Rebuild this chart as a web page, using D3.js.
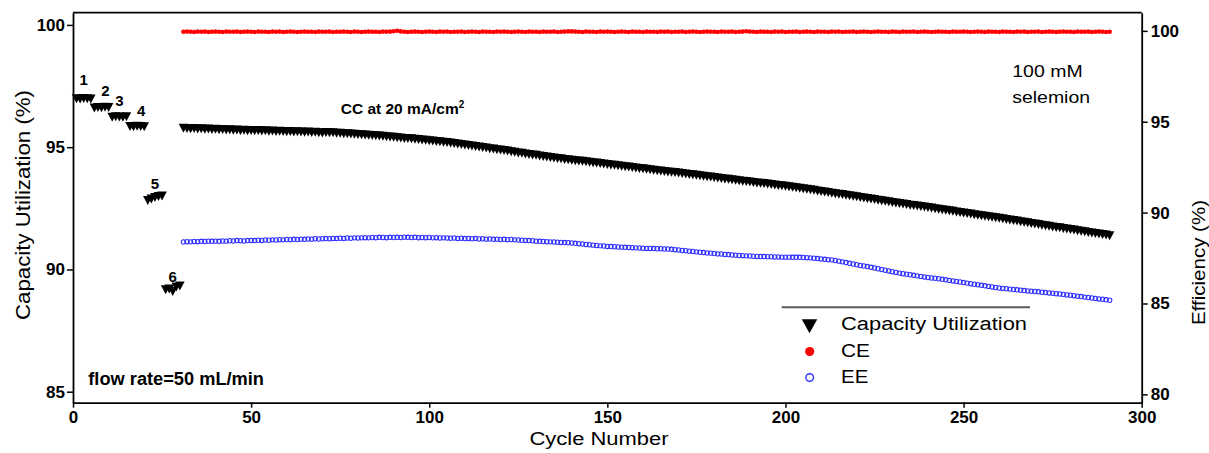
<!DOCTYPE html>
<html>
<head>
<meta charset="utf-8">
<script src="https://cdn.jsdelivr.net/npm/d3@7"></script>
<style>
  html, body { margin: 0; padding: 0; background: #fff; }
  svg { display: block; }
  text { font-family: "Liberation Sans", Arial, Helvetica, sans-serif; fill: #000; }
</style>
</head>
<body>
<svg id="chart" width="1209" height="453"></svg>
<script>
// Capacity utilization (%) for the six flow-rate steps, 5 cycles each (cycles 1–30)
const capacityEarly = [
  96.98, 96.97, 96.99, 96.98, 96.97,
  96.60, 96.62, 96.61, 96.63, 96.62,
  96.22, 96.24, 96.23, 96.22, 96.24,
  95.85, 95.84, 95.86, 95.85, 95.84,
  92.82, 92.88, 92.94, 92.98, 93.00,
  89.17, 89.20, 89.10, 89.28, 89.32
];

// Capacity utilization (%) during constant-current cycling, cycles 31–291
const capacityMain = [
  95.77, 95.76, 95.75, 95.76, 95.74, 95.75, 95.73, 95.74, 95.72, 95.73,
  95.71, 95.72, 95.70, 95.71, 95.69, 95.70, 95.68, 95.69, 95.67, 95.68,
  95.67, 95.68, 95.66, 95.67, 95.65, 95.66, 95.64, 95.65, 95.64, 95.63,
  95.64, 95.62, 95.63, 95.62, 95.61, 95.62, 95.60, 95.61, 95.59, 95.58,
  95.60, 95.59, 95.59, 95.57, 95.57, 95.55, 95.55, 95.54, 95.53, 95.52,
  95.51, 95.50, 95.49, 95.48, 95.47, 95.46, 95.45, 95.43, 95.42, 95.41,
  95.39, 95.38, 95.36, 95.35, 95.34, 95.32, 95.31, 95.29, 95.28, 95.26,
  95.25, 95.23, 95.22, 95.20, 95.19, 95.17, 95.15, 95.13, 95.11, 95.09,
  95.07, 95.05, 95.03, 95.01, 94.99, 94.97, 94.94, 94.93, 94.90, 94.88,
  94.86, 94.84, 94.81, 94.79, 94.76, 94.75, 94.72, 94.70, 94.68, 94.67,
  94.64, 94.62, 94.60, 94.58, 94.56, 94.54, 94.53, 94.50, 94.49, 94.47,
  94.45, 94.44, 94.42, 94.40, 94.38, 94.36, 94.35, 94.33, 94.31, 94.29,
  94.27, 94.26, 94.24, 94.22, 94.20, 94.19, 94.17, 94.15, 94.13, 94.12,
  94.10, 94.08, 94.06, 94.04, 94.03, 94.01, 93.99, 93.97, 93.96, 93.94,
  93.92, 93.90, 93.88, 93.87, 93.85, 93.83, 93.81, 93.79, 93.78, 93.76,
  93.74, 93.72, 93.70, 93.69, 93.67, 93.65, 93.63, 93.61, 93.60, 93.58,
  93.56, 93.54, 93.52, 93.51, 93.49, 93.47, 93.45, 93.43, 93.42, 93.40,
  93.38, 93.36, 93.34, 93.32, 93.30, 93.28, 93.26, 93.24, 93.21, 93.19,
  93.17, 93.15, 93.12, 93.10, 93.08, 93.06, 93.03, 93.01, 92.99, 92.97,
  92.94, 92.92, 92.90, 92.88, 92.86, 92.83, 92.81, 92.79, 92.77, 92.74,
  92.72, 92.70, 92.68, 92.66, 92.63, 92.61, 92.59, 92.57, 92.55, 92.53,
  92.51, 92.48, 92.46, 92.44, 92.42, 92.40, 92.38, 92.35, 92.33, 92.31,
  92.29, 92.27, 92.24, 92.22, 92.20, 92.18, 92.15, 92.13, 92.11, 92.09,
  92.07, 92.04, 92.02, 92.00, 91.98, 91.95, 91.93, 91.91, 91.88, 91.86,
  91.84, 91.81, 91.79, 91.77, 91.74, 91.72, 91.70, 91.67, 91.65, 91.63,
  91.61, 91.58, 91.56, 91.54, 91.51, 91.49, 91.47, 91.45, 91.43, 91.41,
  91.38
];

// Coulombic efficiency (%), cycles 31–291
const ceValues = [
  99.95, 99.96, 99.95, 99.94, 99.96, 99.95, 99.96, 99.94, 99.95, 99.96,
  99.95, 99.94, 99.96, 99.95, 99.95, 99.96, 99.94, 99.95, 99.96, 99.95,
  99.94, 99.96, 99.95, 99.95, 99.94, 99.96, 99.95, 99.96, 99.94, 99.95,
  99.96, 99.95, 99.94, 99.95, 99.96, 99.95, 99.95, 99.94, 99.96, 99.95,
  99.95, 99.96, 99.94, 99.95, 99.95, 99.96, 99.95, 99.94, 99.96, 99.95,
  99.94, 99.95, 99.96, 99.95, 99.95, 99.94, 99.96, 99.95, 99.96, 99.98,
  100.01, 99.97, 99.95, 99.94, 99.95, 99.96, 99.95, 99.94, 99.95, 99.96,
  99.95, 99.94, 99.96, 99.95, 99.96, 99.94, 99.95, 99.95, 99.96, 99.94,
  99.95, 99.96, 99.95, 99.94, 99.96, 99.95, 99.95, 99.94, 99.96, 99.95,
  99.96, 99.95, 99.94, 99.95, 99.96, 99.95, 99.94, 99.96, 99.95, 99.95,
  99.94, 99.96, 99.95, 99.95, 99.96, 99.94, 99.95, 99.96, 99.97, 99.97,
  99.96, 99.95, 99.94, 99.96, 99.95, 99.95, 99.94, 99.96, 99.95, 99.96,
  99.95, 99.94, 99.95, 99.96, 99.95, 99.94, 99.96, 99.95, 99.95, 99.94,
  99.96, 99.95, 99.95, 99.94, 99.96, 99.95, 99.96, 99.94, 99.95, 99.95,
  99.96, 99.94, 99.95, 99.96, 99.95, 99.94, 99.95, 99.96, 99.95, 99.95,
  99.94, 99.96, 99.95, 99.95, 99.96, 99.94, 99.95, 99.96, 99.98, 99.96,
  99.95, 99.94, 99.96, 99.95, 99.95, 99.94, 99.96, 99.95, 99.96, 99.94,
  99.95, 99.95, 99.96, 99.94, 99.95, 99.96, 99.95, 99.94, 99.96, 99.95,
  99.95, 99.94, 99.96, 99.95, 99.96, 99.94, 99.95, 99.95, 99.96, 99.94,
  99.95, 99.96, 99.95, 99.94, 99.95, 99.96, 99.95, 99.95, 99.94, 99.96,
  99.95, 99.94, 99.96, 99.95, 99.95, 99.96, 99.94, 99.95, 99.96, 99.95,
  99.94, 99.95, 99.96, 99.95, 99.95, 99.94, 99.96, 99.95, 99.95, 99.96,
  99.95, 99.94, 99.95, 99.96, 99.95, 99.94, 99.96, 99.95, 99.95, 99.94,
  99.96, 99.95, 99.95, 99.94, 99.96, 99.95, 99.96, 99.94, 99.95, 99.95,
  99.96, 99.94, 99.95, 99.96, 99.95, 99.94, 99.95, 99.96, 99.95, 99.95,
  99.94, 99.96, 99.95, 99.95, 99.96, 99.94, 99.95, 99.96, 99.95, 99.94,
  99.95
];

// Energy efficiency (%), cycles 31–291
const eeValues = [
  88.38, 88.40, 88.39, 88.41, 88.40, 88.42, 88.41, 88.43, 88.42, 88.43,
  88.42, 88.44, 88.43, 88.45, 88.44, 88.46, 88.45, 88.44, 88.46, 88.47,
  88.46, 88.48, 88.47, 88.49, 88.48, 88.50, 88.49, 88.51, 88.50, 88.52,
  88.51, 88.53, 88.52, 88.54, 88.53, 88.55, 88.54, 88.56, 88.55, 88.56,
  88.57, 88.56, 88.58, 88.57, 88.59, 88.58, 88.60, 88.59, 88.61, 88.60,
  88.61, 88.62, 88.61, 88.63, 88.62, 88.64, 88.63, 88.62, 88.64, 88.63,
  88.64, 88.63, 88.65, 88.64, 88.63, 88.64, 88.62, 88.63, 88.62, 88.63,
  88.61, 88.62, 88.60, 88.61, 88.60, 88.59, 88.60, 88.58, 88.59, 88.57,
  88.58, 88.56, 88.57, 88.55, 88.56, 88.54, 88.55, 88.53, 88.54, 88.52,
  88.53, 88.51, 88.52, 88.50, 88.49, 88.48, 88.47, 88.46, 88.45, 88.43,
  88.42, 88.41, 88.40, 88.39, 88.38, 88.37, 88.36, 88.35, 88.34, 88.33,
  88.31, 88.29, 88.27, 88.25, 88.23, 88.21, 88.19, 88.17, 88.16, 88.14,
  88.13, 88.12, 88.11, 88.10, 88.09, 88.08, 88.07, 88.06, 88.05, 88.04,
  88.03, 88.03, 88.02, 88.01, 88.01, 88.00, 88.00, 87.98, 87.96, 87.94,
  87.92, 87.90, 87.88, 87.86, 87.84, 87.82, 87.80, 87.78, 87.77, 87.75,
  87.73, 87.72, 87.70, 87.69, 87.67, 87.66, 87.64, 87.63, 87.62, 87.61,
  87.60, 87.59, 87.58, 87.58, 87.57, 87.57, 87.56, 87.56, 87.55, 87.55,
  87.55, 87.54, 87.54, 87.54, 87.53, 87.52, 87.51, 87.49, 87.47, 87.45,
  87.43, 87.41, 87.40, 87.37, 87.33, 87.29, 87.25, 87.21, 87.17, 87.13,
  87.09, 87.06, 87.03, 86.99, 86.95, 86.91, 86.87, 86.83, 86.79, 86.75,
  86.71, 86.67, 86.64, 86.61, 86.58, 86.55, 86.52, 86.49, 86.46, 86.43,
  86.40, 86.39, 86.36, 86.33, 86.30, 86.27, 86.24, 86.21, 86.18, 86.15,
  86.12, 86.09, 86.06, 86.03, 86.00, 85.97, 85.94, 85.91, 85.88, 85.85,
  85.83, 85.81, 85.79, 85.77, 85.75, 85.73, 85.71, 85.69, 85.67, 85.66,
  85.64, 85.62, 85.60, 85.58, 85.56, 85.54, 85.52, 85.50, 85.47, 85.45,
  85.43, 85.40, 85.38, 85.35, 85.33, 85.30, 85.28, 85.25, 85.23, 85.20,
  85.18
];

const xTicks = [0, 50, 100, 150, 200, 250, 300];
const leftTicks = [85, 90, 95, 100];
const rightTicks = [80, 85, 90, 95, 100];
const stepLabels = ["1", "2", "3", "4", "5", "6"];
const cyclesPerStep = 5;
const mainStartCycle = 31;
const legendLabels = ["Capacity Utilization", "CE", "EE"];

// ---- assemble point records ----
const capacityPoints = capacityEarly.map((v, i) => ({ cycle: i + 1, value: v }))
  .concat(capacityMain.map((v, i) => ({ cycle: mainStartCycle + i, value: v })));
const cePoints = ceValues.map((v, i) => ({ cycle: mainStartCycle + i, value: v }));
const eePoints = eeValues.map((v, i) => ({ cycle: mainStartCycle + i, value: v }));

// ---- frame ----
const plot = { left: 73, right: 1141.7, top: 12.7, bottom: 402.7 };
const svg = d3.select("#chart");

const x = d3.scaleLinear().domain([0, 300]).range([plot.left, plot.right]);
const yLeft = d3.scaleLinear().domain([84.55, 100.5]).range([plot.bottom, plot.top]);
const yRight = d3.scaleLinear().domain([79.54, 101.0]).range([plot.bottom, plot.top]);

const RED = "#ff0000";
const BLUE = "#2f2fff";

// down-pointing triangle centred on its bounding box
const tri = (w, h) => `M${-w / 2},${-h / 2}L${w / 2},${-h / 2}L0,${h / 2}Z`;

// ---- series ----
svg.append("g").selectAll("circle")
  .data(eePoints).join("circle")
  .attr("cx", d => x(d.cycle))
  .attr("cy", d => yRight(d.value))
  .attr("r", 2.2)
  .attr("fill", "none")
  .attr("stroke", BLUE)
  .attr("stroke-width", 1.05);

svg.append("g").selectAll("circle")
  .data(cePoints).join("circle")
  .attr("cx", d => x(d.cycle))
  .attr("cy", d => yRight(d.value))
  .attr("r", 2.3)
  .attr("fill", RED);

svg.append("g").selectAll("path")
  .data(capacityPoints).join("path")
  .attr("transform", d => `translate(${x(d.cycle)},${yLeft(d.value)})`)
  .attr("d", tri(9.5, 9))
  .attr("fill", "#000");

// ---- axes ----
function styleAxis(g, fontSize) {
  g.select(".domain").attr("stroke", "#000").attr("stroke-width", 1.8);
  g.selectAll(".tick line").attr("stroke", "#000").attr("stroke-width", 1.5);
  g.selectAll(".tick text")
    .attr("font-family", '"Liberation Sans", Arial, sans-serif')
    .attr("font-weight", "bold")
    .attr("font-size", fontSize)
    .attr("fill", "#000");
}

svg.append("g")
  .attr("transform", `translate(0,${plot.bottom})`)
  .call(d3.axisBottom(x).tickValues(xTicks).tickSize(5).tickSizeOuter(0).tickPadding(3))
  .call(g => styleAxis(g, 17));

svg.append("g")
  .attr("transform", `translate(${plot.left},0)`)
  .call(d3.axisLeft(yLeft).tickValues(leftTicks).tickSize(6).tickSizeOuter(0).tickPadding(2))
  .call(g => styleAxis(g, 17));

svg.append("g")
  .attr("transform", `translate(${plot.right},0)`)
  .call(d3.axisRight(yRight).tickValues(rightTicks).tickSize(6).tickSizeOuter(0).tickPadding(3))
  .call(g => styleAxis(g, 17));

// top border
svg.append("line")
  .attr("x1", plot.left).attr("x2", plot.right)
  .attr("y1", plot.top).attr("y2", plot.top)
  .attr("stroke", "#000").attr("stroke-width", 1.8);

// ---- axis titles ----
svg.append("text")
  .attr("transform", "translate(29.5,205) rotate(-90)")
  .attr("text-anchor", "middle")
  .attr("font-size", 19.5)
  .attr("textLength", 230).attr("lengthAdjust", "spacingAndGlyphs")
  .text("Capacity Utilization (%)");

svg.append("text")
  .attr("transform", "translate(1204.5,262.5) rotate(-90)")
  .attr("text-anchor", "middle")
  .attr("font-size", 18.7)
  .attr("textLength", 125).attr("lengthAdjust", "spacingAndGlyphs")
  .text("Efficiency (%)");

svg.append("text")
  .attr("x", 599).attr("y", 444.5)
  .attr("text-anchor", "middle")
  .attr("font-size", 17.5)
  .attr("textLength", 139).attr("lengthAdjust", "spacingAndGlyphs")
  .text("Cycle Number");

// ---- step labels above each flow-rate group ----
const labelNudge = [0, 4, 0, 4, 0, 0];
const labelLift = [14, 12, 11, 10, 9, 7];
stepLabels.forEach((lab, i) => {
  const grp = capacityPoints.slice(i * cyclesPerStep, (i + 1) * cyclesPerStep);
  const cx = x(d3.mean(grp, d => d.cycle));
  const cy = yLeft(d3.mean(grp, d => d.value));
  svg.append("text")
    .attr("x", cx + labelNudge[i])
    .attr("y", cy - labelLift[i])
    .attr("text-anchor", "middle")
    .attr("font-size", 15)
    .attr("font-weight", "bold")
    .text(lab);
});

// ---- annotations ----
const cc = svg.append("text")
  .attr("x", 340.7).attr("y", 113.5)
  .attr("font-size", 15.5)
  .attr("font-weight", "bold");
cc.append("tspan").text("CC at 20 mA/cm");
cc.append("tspan").attr("font-size", 10).attr("dy", -6).text("2");

svg.append("text")
  .attr("x", 88.3).attr("y", 385)
  .attr("font-size", 18)
  .attr("font-weight", "bold")
  .attr("textLength", 175.7).attr("lengthAdjust", "spacingAndGlyphs")
  .text("flow rate=50 mL/min");

svg.append("text")
  .attr("x", 1012.3).attr("y", 77.3)
  .attr("font-size", 16)
  .attr("textLength", 70.3).attr("lengthAdjust", "spacingAndGlyphs")
  .text("100 mM");
svg.append("text")
  .attr("x", 1012.3).attr("y", 103.3)
  .attr("font-size", 16)
  .attr("textLength", 77.7).attr("lengthAdjust", "spacingAndGlyphs")
  .text("selemion");

// ---- legend ----
const legend = svg.append("g");
legend.append("line")
  .attr("x1", 781.7).attr("x2", 1030)
  .attr("y1", 307.3).attr("y2", 307.3)
  .attr("stroke", "#5a5a5a").attr("stroke-width", 2);

const legendRows = [
  { label: legendLabels[0], y: 329.5, width: 186 },
  { label: legendLabels[1], y: 356.7, width: 29 },
  { label: legendLabels[2], y: 383.3, width: 27.3 }
];
legendRows.forEach(r => {
  legend.append("text")
    .attr("x", 841).attr("y", r.y)
    .attr("font-size", 18)
    .attr("textLength", r.width).attr("lengthAdjust", "spacingAndGlyphs")
    .text(r.label);
});
legend.append("path")
  .attr("transform", "translate(809.5,326.3)")
  .attr("d", tri(15.5, 14))
  .attr("fill", "#000");
legend.append("circle")
  .attr("cx", 809.7).attr("cy", 351.5).attr("r", 4.6)
  .attr("fill", RED);
legend.append("circle")
  .attr("cx", 809.7).attr("cy", 377.5).attr("r", 3.8)
  .attr("fill", "none").attr("stroke", BLUE).attr("stroke-width", 1.4);
</script>
</body>
</html>
